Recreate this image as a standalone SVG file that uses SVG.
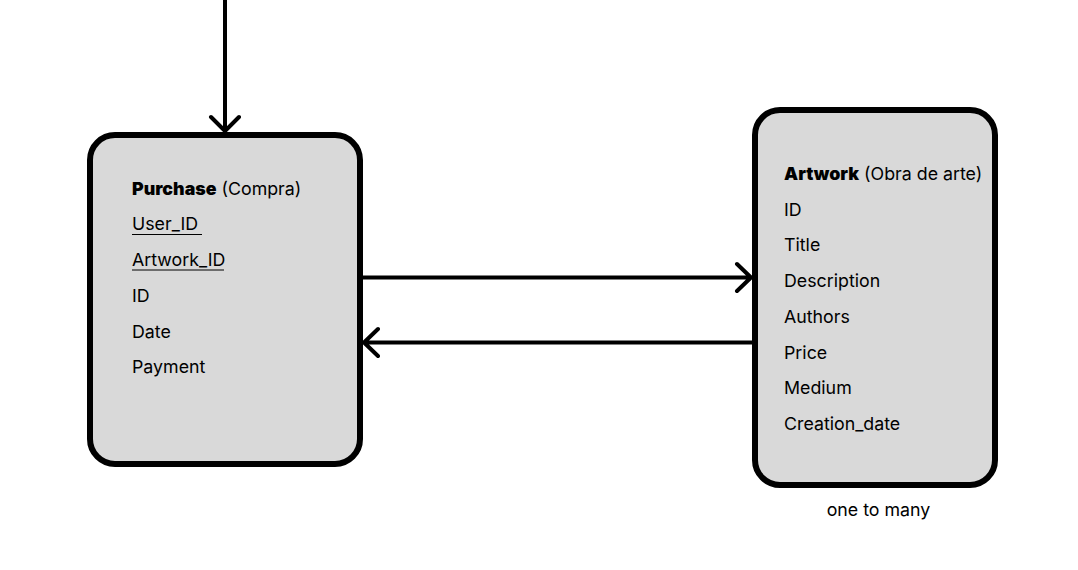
<svg xmlns="http://www.w3.org/2000/svg" width="1078" height="570" viewBox="0 0 1078 570">
<style>
.box{fill:#D9D9D9;stroke:#000;stroke-width:6}
.t{font-family:Inter,"Noto Sans","Liberation Sans",sans-serif;font-size:17.8px;fill:#000}
.b{font-weight:900}
.c{fill:none;stroke:#000;stroke-width:4;stroke-linecap:round;stroke-linejoin:round}
.u{stroke:#000;stroke-width:1}
</style>
<rect width="1078" height="570" fill="#fff"/>
<g id="purchase">
<rect class="box" x="90" y="135" width="270" height="329" rx="25"/>
<text class="t" x="132" y="194.5"><tspan class="b">Purchase</tspan> (Compra)</text>
<text class="t" x="132" y="230">User_ID</text>
<line class="u" x1="132" y1="234.5" x2="202" y2="234.5"/>
<text class="t" x="132" y="266">Artwork_ID</text>
<line class="u" x1="132" y1="270" x2="224" y2="270"/>
<text class="t" x="132" y="301.5">ID</text>
<text class="t" x="132" y="337.5">Date</text>
<text class="t" x="132" y="373">Payment</text>
</g>
<g id="artwork">
<rect class="box" x="755" y="110" width="240" height="375" rx="25"/>
<text class="t" x="784" y="179.5"><tspan class="b">Artwork</tspan> (Obra de arte)</text>
<text class="t" x="784" y="215.5">ID</text>
<text class="t" x="784" y="251">Title</text>
<text class="t" x="784" y="287">Description</text>
<text class="t" x="784" y="322.5">Authors</text>
<text class="t" x="784" y="358.5">Price</text>
<text class="t" x="784" y="394">Medium</text>
<text class="t" x="784" y="429.5">Creation_date</text>
</g>
<g id="connectors">
<path class="c" d="M225 -2 V131 M211 117 L225 131 L239 117"/>
<path class="c" d="M362 277.5 H751 M737 264 L751 277.5 L737 291"/>
<path class="c" d="M752 342.5 H364 M378 329 L364 342.5 L378 356"/>
</g>
<text class="t" x="878.5" y="516" text-anchor="middle">one to many</text>
</svg>
